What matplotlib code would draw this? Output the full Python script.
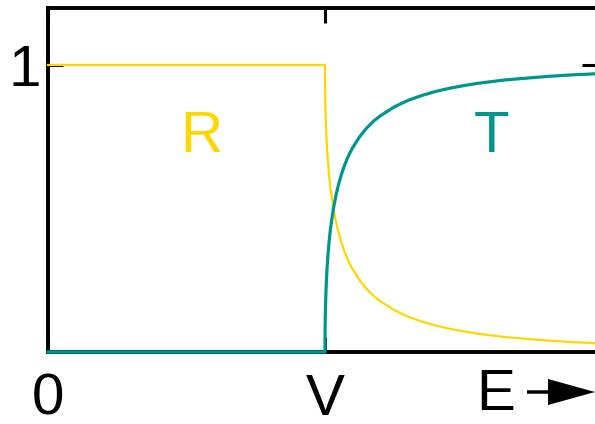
import matplotlib
matplotlib.use("Agg")
import matplotlib.pyplot as plt
from matplotlib.patches import FancyArrow

plt.rcParams['font.family'] = ['Liberation Sans', 'DejaVu Sans']

# energy in units of V (E/V)
E_below = [0.0, 1.0]
T_below = [0.0, 0.0]
R_below = [1.0, 1.0]

E_above = [1.0, 1.0002, 1.0005, 1.001, 1.002, 1.003, 1.005, 1.0075, 1.01, 1.015,
           1.02, 1.03, 1.04, 1.05, 1.06, 1.07, 1.08, 1.09, 1.1, 1.125, 1.15,
           1.175, 1.2, 1.25, 1.3, 1.35, 1.4, 1.45, 1.5, 1.55, 1.6, 1.65, 1.7,
           1.75, 1.8, 1.85, 1.9, 1.95, 2.0]
T_above = [0.0, 0.055, 0.086, 0.119, 0.164, 0.197, 0.246, 0.293, 0.329, 0.387,
           0.431, 0.498, 0.548, 0.588, 0.621, 0.649, 0.673, 0.694, 0.712, 0.750, 0.780,
           0.804, 0.823, 0.854, 0.877, 0.894, 0.908, 0.919, 0.928, 0.936, 0.942, 0.948, 0.952,
           0.956, 0.960, 0.963, 0.966, 0.968, 0.971]
R_above = [1.0, 0.945, 0.914, 0.881, 0.836, 0.803, 0.754, 0.707, 0.671, 0.613,
           0.569, 0.502, 0.452, 0.412, 0.379, 0.351, 0.327, 0.306, 0.288, 0.250, 0.220,
           0.196, 0.177, 0.146, 0.123, 0.106, 0.092, 0.081, 0.072, 0.064, 0.058, 0.052, 0.048,
           0.044, 0.040, 0.037, 0.034, 0.032, 0.029]

xtick_pos = [0, 1]
xtick_labels = ['0', 'V']
ytick_pos = [1]
ytick_labels = ['1']

yellow = '#ffd700'
teal = '#009690'

W, H = 595, 424
fig = plt.figure(figsize=(W / 100, H / 100), dpi=100)
left, right, top, bottom = 48, 597, 8, 352
ax = fig.add_axes([left / W, 1 - bottom / H, (right - left) / W, (bottom - top) / H])

ax.plot(E_below + E_above, R_below + R_above, color=yellow, lw=1.6, zorder=3, clip_on=False)
ax.plot(E_below + E_above, T_below + T_above, color=teal, lw=2.3, zorder=4, clip_on=False)

xmax = (right - left) / (325 - left)
ax.set_xlim(0, xmax)
ax.set_ylim(0, (bottom - top) / (bottom - 65))

for s in ax.spines.values():
    s.set_linewidth(2.8)

FS = 42
ax.set_xticks(xtick_pos)
ax.set_xticklabels(xtick_labels)
ax.set_yticks(ytick_pos)
ax.set_yticklabels(ytick_labels)
ax.tick_params(direction='in', length=11, width=2.2, labelsize=FS,
               top=True, right=True)
ax.tick_params(axis='x', pad=15)
ax.tick_params(axis='y', pad=5)

ax.text(201 / W, 1 - 137 / H, 'R', transform=fig.transFigure, color=yellow,
        fontsize=FS, ha='center', va='center')
ax.text(492 / W, 1 - 137 / H, 'T', transform=fig.transFigure, color=teal,
        fontsize=FS, ha='center', va='center')
ax.text(496 / W, 1 - 395 / H, 'E', transform=fig.transFigure, color='black',
        fontsize=FS, ha='center', va='center')
fig.add_artist(FancyArrow(527 / W, 1 - 392 / H, 68 / W, 0, width=3.5 / H,
                          head_width=26 / H, head_length=47 / W,
                          length_includes_head=True, color='black', lw=0,
                          transform=fig.transFigure))

fig.savefig('out.png', dpi=100)
